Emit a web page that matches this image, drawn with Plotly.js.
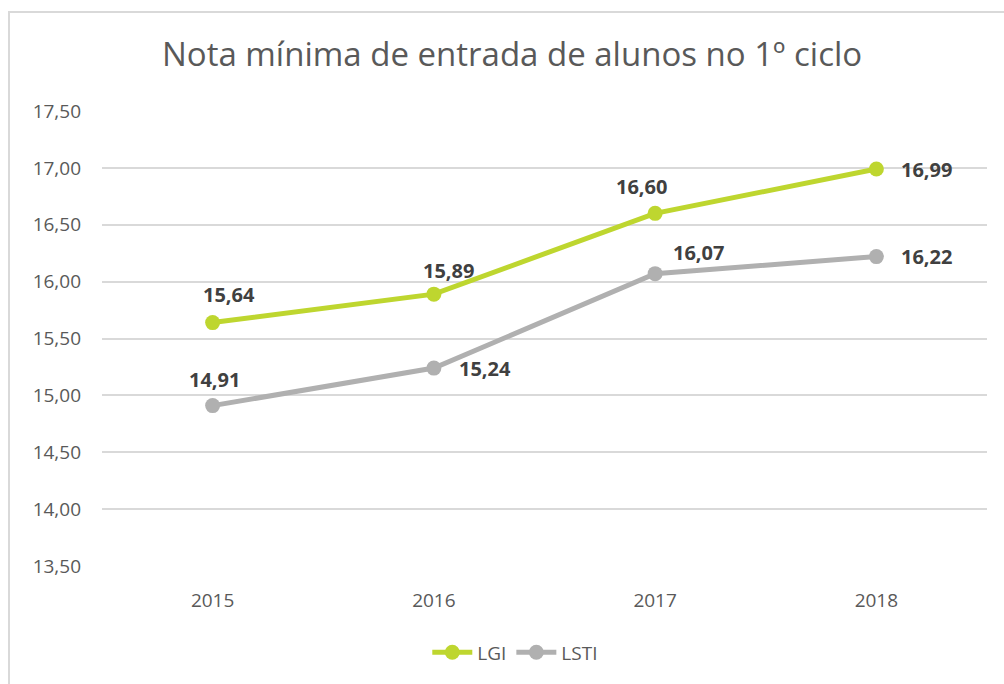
<!DOCTYPE html>
<html>
<head>
<meta charset="utf-8">
<script src="https://cdn.plot.ly/plotly-3.0.1.min.js"></script>
<style>
  html, body { margin: 0; padding: 0; background: #ffffff; width: 1004px; height: 684px; overflow: hidden; }
  #frame { position: absolute; left: 8px; top: 11px; width: 1100px; height: 800px; border: 2px solid #d9d9d9; box-sizing: border-box; }
  #chart { position: absolute; left: 0; top: 0; width: 1004px; height: 684px; }
</style>
</head>
<body>
<div id="frame"></div>
<div id="chart"></div>
<script>
const years = ['2015', '2016', '2017', '2018'];
const lgi = [15.64, 15.89, 16.60, 16.99];
const lsti = [14.91, 15.24, 16.07, 16.22];
const seriesNames = ['LGI', 'LSTI'];
const titleText = 'Nota mínima de entrada de alunos no 1º ciclo';
const tickVals = [13.5, 14, 14.5, 15, 15.5, 16, 16.5, 17, 17.5];

const idx = years.map((_, i) => i);
const fmt = v => v.toFixed(2).replace('.', ',');
const green = '#bed62f';
const grey = '#b0b0b0';
const font = '"Open Sans", "Noto Sans", sans-serif';

// label offsets in pixels (style, not data)
const lgiShift = [[16, -28], [15, -24], [-14, -27], [50, 0]];
const lstiShift = [[2, -26], [51, 0], [43, -21], [50, 0]];

const annotations = [];
function addLabels(vals, shifts) {
  vals.forEach((v, i) => {
    annotations.push({
      x: idx[i], y: v, xref: 'x', yref: 'y', text: '<b>' + fmt(v) + '</b>',
      showarrow: false, xanchor: 'center', yanchor: 'middle',
      xshift: shifts[i][0], yshift: -shifts[i][1],
      font: { family: font, size: 20, color: '#404040' }
    });
  });
}
addLabels(lgi, lgiShift);
addLabels(lsti, lstiShift);

const traces = [
  { x: idx, y: lgi, name: seriesNames[0], type: 'scatter', mode: 'lines+markers',
    line: { color: green, width: 5 }, marker: { color: green, size: 15 }, hoverinfo: 'none' },
  { x: idx, y: lsti, name: seriesNames[1], type: 'scatter', mode: 'lines+markers',
    line: { color: grey, width: 5 }, marker: { color: grey, size: 15 }, hoverinfo: 'none' }
];

const layout = {
  width: 1004, height: 684,
  paper_bgcolor: 'rgba(0,0,0,0)', plot_bgcolor: 'rgba(0,0,0,0)',
  margin: { l: 102, r: 17, t: 111, b: 114 },
  title: { text: titleText, x: 0.51, xanchor: 'center', y: 0.92, yanchor: 'middle',
    font: { family: font, size: 33, color: '#595959' } },
  xaxis: { range: [-0.5, years.length - 0.5], tickvals: idx, ticktext: years,
    showgrid: false, zeroline: false, showline: false, ticks: '',
    tickfont: { family: font, size: 19, color: '#595959' }, ticklabelstandoff: 21 },
  yaxis: { range: [13.5, 17.5], tickvals: tickVals, ticktext: tickVals.map(fmt),
    showgrid: true, gridcolor: '#d9d9d9', gridwidth: 2, zeroline: false, showline: false, ticks: '',
    tickfont: { family: font, size: 19, color: '#595959' }, ticklabelstandoff: 20 },
  showlegend: true,
  legend: { orientation: 'h', x: 0.467, xanchor: 'center', y: -0.19, yanchor: 'middle',
    font: { family: font, size: 19, color: '#595959' }, itemwidth: 40 },
  annotations: annotations
};

Plotly.newPlot('chart', traces, layout, { displayModeBar: false, staticPlot: true });
</script>
</body>
</html>
